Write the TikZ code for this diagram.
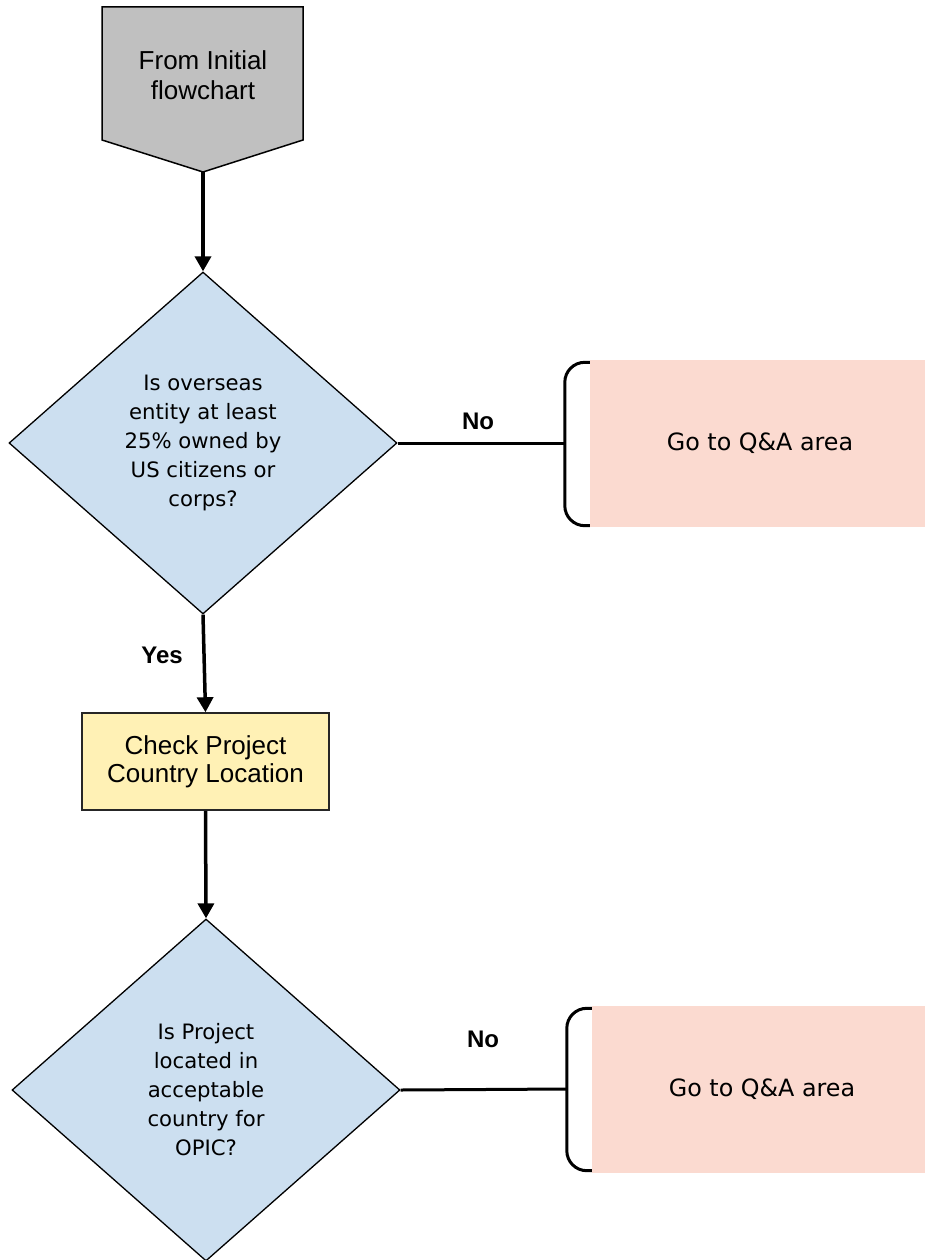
\documentclass[tikz,border=0pt]{standalone}
\usepackage{fontspec}
\setmainfont{Liberation Sans}
\newfontfamily\tahomalike{DejaVu Sans}
\usetikzlibrary{shapes.geometric,arrows.meta}
\definecolor{grayfill}{RGB}{192,192,192}
\definecolor{bluefill}{RGB}{204,223,240}
\definecolor{yellowfill}{RGB}{255,241,181}
\definecolor{pinkfill}{RGB}{251,218,208}
\tikzset{
  x=1pt, y=-1pt,
  decision/.style={diamond, draw=black, line width=1.3pt, fill=bluefill, inner sep=0pt,
    minimum width=388pt, minimum height=342pt, align=center,
    font=\tahomalike\fontsize{21.2}{29}\selectfont},
  process/.style={rectangle, draw=black!85, line width=1.5pt, fill=yellowfill,
    minimum width=247pt, minimum height=97pt, align=center,
    font=\fontsize{26}{28}\selectfont},
  qabox/.style={rectangle, fill=pinkfill, inner sep=0pt, minimum width=336pt,
    minimum height=167pt, font=\tahomalike\fontsize{23.8}{28}\selectfont},
  bracketline/.style={draw=black, line width=3pt, rounded corners=20pt},
  flow/.style={line width=3.5pt, -{Triangle[length=15pt,width=16pt]}},
  plain/.style={line width=3pt},
  lbl/.style={font=\bfseries\fontsize{24}{28}\selectfont, inner sep=0pt},
  starttext/.style={align=center, font=\fontsize{26}{30}\selectfont, inner sep=0pt}
}
\begin{document}
\begin{tikzpicture}
\useasboundingbox (0,0) rectangle (924,1260);
% start off-page connector
\fill[grayfill, draw=black, line width=1.5pt] (102,7) -- (303,7) -- (303,140) -- (203,172) -- (102,140) -- cycle;
\node[starttext] (start) at (203,75) {From Initial\\flowchart};
\coordinate (starttip) at (203,172);

% decision 1
\node[decision] (d1) at (203,443) {Is overseas\\entity at least\\25\% owned by\\US citizens or\\corps?};
% process
\node[process] (chk) at (205.5,761.5) {Check Project\\Country Location};
% decision 2
\node[decision] (d2) at (206,1090) {Is Project\\located in\\acceptable\\country for\\OPIC?};

% Q&A boxes
\node[qabox] (qa1) at (758,443) {\hspace*{4pt}Go to Q\&A area};
\node[qabox] (qa2) at (760,1089) {\hspace*{4pt}Go to Q\&A area};
\coordinate (b1) at ([xshift=-25pt]qa1.west);
\coordinate (b2) at ([xshift=-25pt]qa2.west);
\draw[bracketline] ([yshift=-3pt]qa1.north west) -| (b1) |- ([yshift=1pt]qa1.south west);
\draw[bracketline] ([yshift=-3pt]qa2.north west) -| (b2) |- ([yshift=2pt]qa2.south west);

% connectors
\draw[flow] (starttip) -- (d1.north);
\draw[flow] (d1.south) -- (chk.north);
\draw[flow] (chk.south) -- (d2.north);
\draw[plain] (d1.east) -- (b1);
\draw[plain] (d2.east) -- (b2);

% labels
\node[lbl] (no1) at (478,421) {No};
\node[lbl] (no2) at (483,1039) {No};
\node[lbl] (yes1) at (162,655) {Yes};
\end{tikzpicture}
\end{document}
